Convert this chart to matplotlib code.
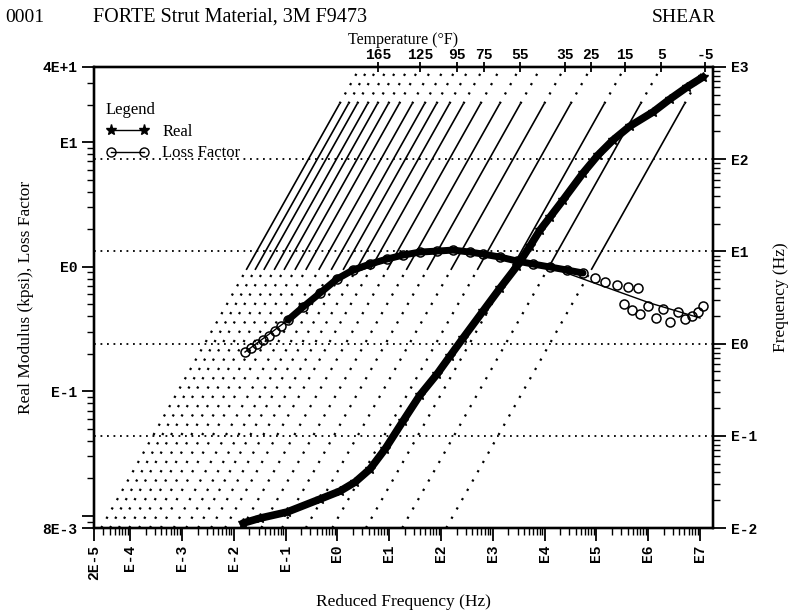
import numpy as np
import matplotlib
matplotlib.use('Agg')
import matplotlib.pyplot as plt
from matplotlib.lines import Line2D
from matplotlib.ticker import LogLocator, NullFormatter, NullLocator

# ---------------- data ----------------
# isotherm temperatures (deg F) and log10 of shift factor aT
temps_F = [185, 175, 165, 155, 145, 135, 125, 115, 105, 95,
           85, 75, 65, 55, 45, 35, 25, 15, 5, -5]
log_shift = [-2.56, -2.39, -2.22, -2.02, -1.83, -1.62, -1.41, -1.16, -0.92, -0.69,
             -0.44, -0.17, 0.16, 0.53, 0.93, 1.39, 1.90, 2.55, 3.25, 4.10]
temp_labels = [165, 125, 95, 75, 55, 35, 25, 15, 5, -5]
meas_band = [6.3, 400.0]          # frequency range drawn solid (Hz)

# Real modulus (kpsi): log10 reduced frequency, log10 modulus
real_logfr = [-1.823, -1.494, -0.973, -0.336, 0.050, 0.340, 0.629, 0.919, 1.266, 1.594,
              1.923, 2.174, 2.425, 2.811, 3.139, 3.467, 3.718, 3.911, 4.104, 4.355,
              4.741, 5.031, 5.320, 5.648, 6.093, 6.421, 6.749, 7.058]
real_logE = [-2.058, -2.018, -1.969, -1.865, -1.801, -1.729, -1.624, -1.464, -1.239, -1.030,
             -0.862, -0.717, -0.573, -0.356, -0.172, 0.005, 0.165, 0.294, 0.398, 0.535,
             0.751, 0.896, 1.016, 1.128, 1.241, 1.345, 1.441, 1.522]

# Loss factor: log10 reduced frequency, log10 loss factor
loss_logfr = [-1.784, -1.668, -1.552, -1.436, -1.321, -1.205, -1.089, -0.954, -0.664, -0.336,
              -0.008, 0.301, 0.629, 0.957, 1.266, 1.594, 1.923, 2.232, 2.560, 2.811,
              3.139, 3.467, 3.776, 4.104, 4.432, 4.741, 4.973, 5.166, 5.398, 5.610,
              5.803, 5.533, 5.687, 5.842, 5.996, 6.150, 6.286, 6.421, 6.575, 6.710,
              6.845, 6.961, 7.058]
loss_logeta = [-0.685, -0.653, -0.621, -0.589, -0.557, -0.517, -0.477, -0.428, -0.324, -0.212,
               -0.099, -0.027, 0.021, 0.061, 0.093, 0.117, 0.125, 0.133, 0.117, 0.101,
               0.077, 0.045, 0.021, -0.003, -0.027, -0.051, -0.091, -0.124, -0.148, -0.164,
               -0.172, -0.300, -0.348, -0.380, -0.316, -0.412, -0.340, -0.445, -0.364, -0.420,
               -0.396, -0.364, -0.316]
loss_dense = (7, 26)   # index range of the densely packed part

# fitted loss-factor curve
lossfit_logfr = [-1.784, -0.954, -0.008, 1.208, 2.174, 3.139, 4.104, 5.069, 6.035, 7.000]
lossfit_logeta = [-0.685, -0.428, -0.099, 0.085, 0.133, 0.077, -0.003, -0.148, -0.292, -0.412]

x_ticks = [2e-5, 1e-4, 1e-3, 1e-2, 1e-1, 1e0, 1e1, 1e2, 1e3, 1e4, 1e5, 1e6, 1e7]
x_labels = ['2E-5', 'E-4', 'E-3', 'E-2', 'E-1', 'E0', 'E1', 'E2', 'E3', 'E4', 'E5', 'E6', 'E7']
yl_ticks = [8e-3, 1e-2, 1e-1, 1e0, 1e1, 4e1]
yl_labels = ['8E-3', '', 'E-1', 'E0', 'E1', '4E+1']
yr_ticks = [1e-2, 1e-1, 1e0, 1e1, 1e2, 1e3]
yr_labels = ['E-2', 'E-1', 'E0', 'E1', 'E2', 'E3']

# ---------------- figure ----------------
SERIF = 'Liberation Serif'
MONO = dict(family='Liberation Mono', weight='bold', size=10.5)

fig = plt.figure(figsize=(7.88, 6.12), dpi=100, facecolor='white')
ax = fig.add_axes([94 / 788, 1 - 528 / 612, 619 / 788, 461 / 612])
ax2 = ax.twinx()
ax3 = ax.twiny()
ax.set_zorder(ax2.get_zorder() + 2)
ax.patch.set_visible(False)

xlim = (2e-5, 10 ** 7.25)
for a in (ax, ax2, ax3):
    a.set_xscale('log')
    a.set_xlim(*xlim)
ax.set_yscale('log')
ax.set_ylim(8e-3, 40)
ax2.set_yscale('log')
ax2.set_ylim(1e-2, 1e3)

# isotherms on the frequency (right) axis
f_lo = np.array([1e-2, meas_band[0]])
f_mid = np.array([meas_band[0], meas_band[1]])
f_hi = np.array([meas_band[1], 1e3])
for ls in log_shift:
    aT = 10 ** ls
    ax2.plot(f_lo * aT, f_lo, color='k', lw=1.6, dashes=(1.0, 3.8))
    ax2.plot(f_mid * aT, f_mid, color='k', lw=1.2, solid_capstyle='butt')
    ax2.plot(f_hi * aT, f_hi, color='k', lw=1.6, dashes=(1.0, 3.8))

# horizontal dotted lines at frequency decades
for yv in yr_ticks[1:-1]:
    ax2.axhline(yv, color='k', lw=1.3, dashes=(1.0, 2.6))

# data
rx = 10 ** np.array(real_logfr)
ry = 10 ** np.array(real_logE)
ax.plot(rx, ry, color='k', lw=5.5, solid_capstyle='round', solid_joinstyle='round')
ax.plot(rx, ry, ls='none', marker='*', ms=7, color='k')

lx = 10 ** np.array(loss_logfr)
ly = 10 ** np.array(loss_logeta)
i0, i1 = loss_dense
ax.plot(lx[i0:i1], ly[i0:i1], color='k', lw=5.0, solid_capstyle='round',
        solid_joinstyle='round')
ax.plot(10 ** np.array(lossfit_logfr), 10 ** np.array(lossfit_logeta), color='k', lw=1.0)
ax.plot(lx, ly, ls='none', marker='o', ms=6.5, mfc='none', mec='k', mew=1.1)

# ticks
ax.set_xticks(x_ticks)
ax.set_xticklabels(x_labels, rotation=90, fontdict=MONO)
ax.xaxis.set_minor_locator(LogLocator(base=10, subs=np.arange(2, 10), numticks=30))
ax.xaxis.set_minor_formatter(NullFormatter())
ax.set_yticks(yl_ticks)
ax.set_yticklabels(yl_labels, fontdict=MONO)
ax.yaxis.set_minor_locator(LogLocator(base=10, subs=np.arange(2, 10), numticks=30))
ax.yaxis.set_minor_formatter(NullFormatter())
ax.tick_params(axis='both', which='major', direction='out', length=9, width=1.3, pad=3)
ax.tick_params(axis='both', which='minor', direction='out', length=5, width=1.0)

ax2.set_yticks(yr_ticks)
ax2.set_yticklabels(yr_labels, fontdict=MONO)
ax2.yaxis.set_minor_locator(LogLocator(base=10, subs=np.arange(2, 10), numticks=30))
ax2.yaxis.set_minor_formatter(NullFormatter())
ax2.tick_params(axis='y', which='major', direction='out', length=9, width=1.3, pad=4)
ax2.tick_params(axis='y', which='minor', direction='out', length=5, width=1.0)

top_pos = [1e3 * 10 ** log_shift[temps_F.index(t)] for t in temp_labels]
ax3.set_xticks(top_pos)
ax3.set_xticklabels([str(t) for t in temp_labels], fontdict=MONO)
ax3.xaxis.set_minor_locator(NullLocator())
ax3.tick_params(axis='x', which='major', direction='inout', length=7, width=1.3, pad=0)

for a in (ax, ax2, ax3):
    for s in a.spines.values():
        s.set_linewidth(1.6)

# labels
ax.set_xlabel('Reduced Frequency (Hz)', family=SERIF, fontsize=12.5, labelpad=10)
ax.set_ylabel('Real Modulus (kpsi), Loss Factor', family=SERIF, fontsize=12.5, labelpad=6)
ax2.set_ylabel('Frequency (Hz)', family=SERIF, fontsize=12.5, labelpad=11)
ax3.set_xlabel('Temperature (°F)', family=SERIF, fontsize=11.5, labelpad=3)

fig.text(5 / 788, 1 - 17 / 612, '0001', family=SERIF, fontsize=14, va='center', ha='left')
fig.text(93 / 788, 1 - 17 / 612, 'FORTE Strut Material, 3M F9473', family=SERIF,
         fontsize=14.5, va='center', ha='left')
fig.text(716 / 788, 1 - 17 / 612, 'SHEAR', family=SERIF, fontsize=14, va='center', ha='right')

# legend
handles = [Line2D([], [], color='k', lw=1.0, marker='*', ms=8),
           Line2D([], [], color='k', lw=1.0, marker='o', ms=6.5, mfc='none', mew=1.0)]
leg = ax.legend(handles, ['Real', 'Loss Factor'], loc='upper left',
                bbox_to_anchor=(0.0, 0.95), frameon=False, numpoints=2,
                title='Legend', alignment='left', handlelength=2.6, handletextpad=0.8,
                labelspacing=0.35, borderaxespad=0.3,
                prop=dict(family=SERIF, size=12))
leg.get_title().set_family(SERIF)
leg.get_title().set_fontsize(12)

fig.savefig('out.png', dpi=100, facecolor='white')
